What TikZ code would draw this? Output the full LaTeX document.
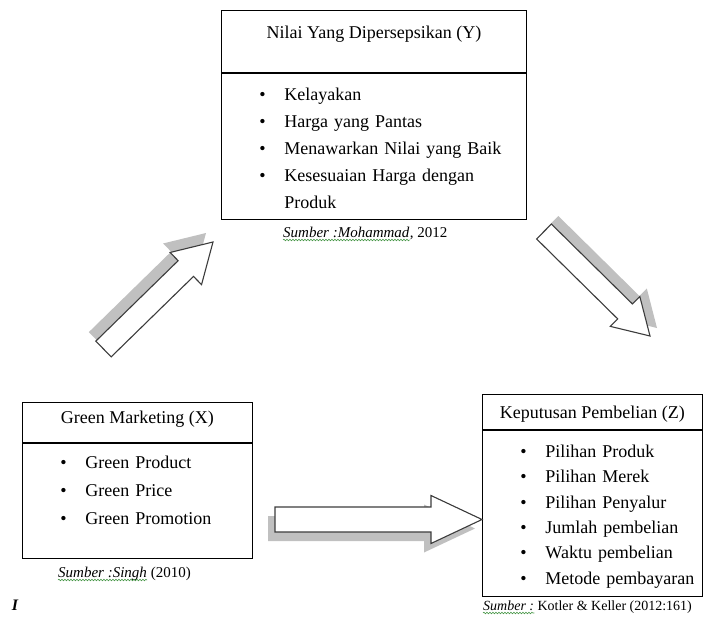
\documentclass[tikz,border=0pt]{standalone}
\usepackage{fontspec}
\setmainfont{Liberation Serif}
\usetikzlibrary{shapes,arrows,positioning,calc,decorations.pathmorphing}

\definecolor{abubayang}{RGB}{192,192,192}
\definecolor{garispanah}{RGB}{60,60,60}
\definecolor{hijaueja}{RGB}{70,150,70}

\newcommand{\poin}[1]{\hspace*{38pt}\makebox[25pt][l]{\textbullet}#1}

% panah blok dengan bayangan: ekor, ujung, setengah batang, setengah kepala, panjang kepala, geser bayangan
\newcommand{\panahblok}[6]{%
  \coordinate (pbE) at ($(#1)+(#6)$);
  \coordinate (pbU) at ($(#2)+(#6)$);
  \coordinate (pbD) at ($(pbU)!#5!(pbE)$);
  \fill[bayangan] ($(pbE)!#3!90:(pbU)$) -- ($(pbD)!#3!-90:(pbE)$) -- ($(pbD)!#4!-90:(pbE)$) -- (pbU)
    -- ($(pbD)!#4!90:(pbE)$) -- ($(pbD)!#3!90:(pbE)$) -- ($(pbE)!#3!-90:(pbU)$) -- cycle;
  \coordinate (pbD) at ($(#2)!#5!(#1)$);
  \draw[panah] ($(#1)!#3!90:(#2)$) -- ($(pbD)!#3!-90:(#1)$) -- ($(pbD)!#4!-90:(#1)$) -- (#2)
    -- ($(pbD)!#4!90:(#1)$) -- ($(pbD)!#3!90:(#1)$) -- ($(#1)!#3!-90:(#2)$) -- cycle;
}

\begin{document}
\begin{tikzpicture}[x=1pt, y=-1pt,
    judul/.style={draw, line width=0.9pt, inner sep=0pt, font=\fontsize{18}{22}\selectfont},
    isi/.style={draw, line width=0.9pt, inner sep=0pt, align=left},
    sumber/.style={anchor=base west, inner sep=0pt, font=\fontsize{15}{18}\selectfont},
    ejaan/.style={draw=hijaueja, line width=0.6pt, decorate, decoration={snake, amplitude=0.8pt, segment length=3pt}},
    bayangan/.style={fill=abubayang},
    panah/.style={draw=garispanah, fill=white, line width=1.1pt, line join=miter}]
    \useasboundingbox (0,0) rectangle (704,621);

    % Nilai yang dipersepsikan
    \node[judul, anchor=north west, minimum width=305pt, text height=28pt, text depth=34pt] at (221,10) (judulY) {Nilai Yang Dipersepsikan (Y)};
    \node[isi, below=0pt of judulY, text width=305pt, text height=27pt, text depth=119pt, font=\fontsize{18}{27}\selectfont] (isiY)
        {\poin{Kelayakan}\\ \poin{Harga yang Pantas}\\ \poin{Menawarkan Nilai yang Baik}\\ \poin{Kesesuaian Harga dengan}\\ \hspace*{63pt}Produk};
    \node[sumber, font=\fontsize{15}{18}\selectfont\itshape] at (283,237) (sumberY) {Sumber :Mohammad};
    \node[sumber] at (sumberY.base east) (tahunY) {, 2012};
    \draw[ejaan] ([yshift=-3pt]sumberY.base west) -- ([yshift=-3pt]sumberY.base east);

    % Green marketing
    \node[judul, anchor=north west, minimum width=230pt, text height=21pt, text depth=19pt] at (22,402) (judulX) {Green Marketing (X)};
    \node[isi, below=0pt of judulX, text width=230pt, text height=25pt, text depth=90pt, font=\fontsize{18}{28}\selectfont] (isiX)
        {\poin{Green Product}\\ \poin{Green Price}\\ \poin{Green Promotion}};
    \node[sumber, font=\fontsize{15}{18}\selectfont\itshape] at (58,577) (sumberX) {Sumber :Singh};
    \node[sumber, xshift=3.5pt] at (sumberX.base east) (tahunX) {(2010)};
    \draw[ejaan] ([yshift=-3pt]sumberX.base west) -- ([yshift=-3pt]sumberX.base east);
    \node[inner sep=0pt, font=\fontsize{16}{18}\selectfont\bfseries\itshape] at (15,605) (tanda) {I};

    % Keputusan pembelian
    \node[judul, anchor=north west, minimum width=220pt, text height=24pt, text depth=11pt] at (482,394) (judulZ) {Keputusan Pembelian (Z)};
    \node[isi, below=0pt of judulZ, text width=220pt, text height=27pt, text depth=139pt, font=\fontsize{18}{25.4}\selectfont] (isiZ)
        {\poin{Pilihan Produk}\\ \poin{Pilihan Merek}\\ \poin{Pilihan Penyalur}\\ \poin{Jumlah pembelian}\\ \poin{Waktu pembelian}\\ \poin{Metode pembayaran}};
    \node[sumber, font=\fontsize{14}{17}\selectfont\itshape] at (483,610) (sumberZ) {Sumber :};
    \node[sumber, font=\fontsize{14}{17}\selectfont, xshift=3pt] at (sumberZ.base east) (penulisZ) {Kotler \& Keller (2012:161)};
    \draw[ejaan] ([yshift=-3pt]sumberZ.base west) -- ([yshift=-3pt]sumberZ.base east);

    % panah
    \coordinate (ekorXY) at (103.5,349);
    \coordinate (ujungXY) at (213,242);
    \coordinate (ekorYZ) at (544,231.5);
    \coordinate (ujungYZ) at (650,336);
    \coordinate (ekorXZ) at (275,519.5);
    \coordinate (ujungXZ) at (isiZ.west |- 0,519.5);
    \panahblok{ekorXY}{ujungXY}{11pt}{22.5pt}{38pt}{-7,-9}
    \panahblok{ekorYZ}{ujungYZ}{10.5pt}{21pt}{35pt}{7,-8}
    \panahblok{ekorXZ}{ujungXZ}{12.5pt}{24pt}{51pt}{-7,9}
\end{tikzpicture}
\end{document}
